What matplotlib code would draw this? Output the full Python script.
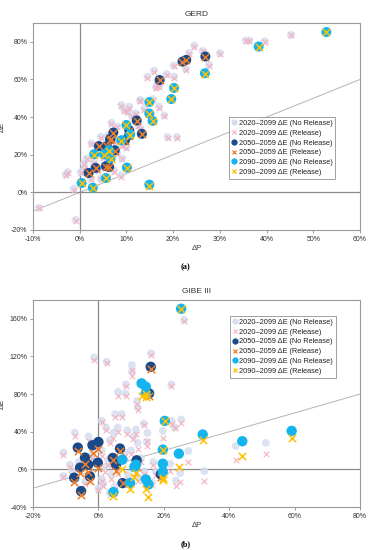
import matplotlib
matplotlib.use("Agg")
import matplotlib.pyplot as plt
from matplotlib.ticker import FuncFormatter, FixedLocator
from matplotlib.lines import Line2D

plt.rcParams['font.family'] = ['Liberation Sans', 'DejaVu Sans']

# ---------------- GERD (panel a) ----------------
gerd_all_dp = [45.2, 36.3, 39.6, 30.0, 24.5, 26.3, 23.4, 27.7, 22.7, 20.1, 20.2, 18.6, 15.9, 14.5,
               16.3, 16.6, 12.9, 15.6, 13.8, 10.6, 8.9, 17.0, 18.1, 11.1, 6.8, 18.8, 20.8, -8.7,
               -0.9, -1.3, -2.6, -3.0, 0.2, 1.5, 9.1, 8.8, 2.5, 4.5, 0.9, 4.5, 7.3, 2.4,
               9.5, 10.2, 12.0, 8.0, 6.0, 7.8, 9.0, 11.0, 12.5, 13.0, 5.0, 3.0, 6.0, 8.0, 10.0,
               4.0, 1.0, 35.5, 17.0, 13.0]
gerd_all_de = [83.7, 80.7, 80.3, 74.0, 78.0, 75.2, 74.0, 67.7, 65.6, 67.4, 61.5, 62.9, 64.7, 61.5,
               55.8, 57.1, 49.0, 49.6, 44.6, 45.5, 46.4, 45.5, 40.9, 40.9, 37.0, 29.5, 29.5, -8.2,
               -14.6, 2.0, 10.8, 9.4, 10.8, 18.0, 18.0, 9.1, 26.0, 29.5, 15.3, 7.3, 11.7, 7.3,
               44.0, 43.0, 42.0, 35.0, 30.0, 27.0, 25.0, 31.0, 36.0, 34.0, 19.0, 16.0, 17.0, 21.0, 24.0,
               12.0, 13.0, 80.7, 56.7, 49.0]
gerd_all_de_rel = [83.5, 80.5, 80.0, 73.5, 77.5, 75.0, 73.5, 67.0, 65.0, 67.0, 61.0, 62.5, 64.0, 61.0,
                   55.5, 56.5, 48.5, 49.0, 44.0, 45.0, 46.0, 45.0, 40.5, 40.5, 36.5, 29.0, 29.0, -8.5,
                   -15.0, 1.5, 10.5, 9.0, 10.5, 17.5, 17.5, 8.2, 25.5, 29.0, 15.0, 7.0, 11.0, 7.0,
                   43.5, 42.5, 41.5, 34.5, 29.5, 26.5, 24.5, 30.5, 35.5, 33.5, 18.5, 15.5, 16.5, 20.5, 23.5,
                   11.5, 12.5, 80.5, 56.0, 48.5]

gerd_50_dp = [17.1, 22.0, 22.8, 26.9, 12.2, 10.6, 7.2, 13.3, 10.6, 6.5, 4.1, 5.8, 7.5, 6.6,
              3.4, 1.9, 5.6, 6.3, 9.7]
gerd_50_de = [59.7, 69.5, 70.4, 72.2, 38.2, 33.0, 31.8, 31.1, 30.4, 28.1, 24.6, 24.6, 22.4, 28.6,
              13.0, 10.3, 13.9, 13.5, 27.7]
gerd_50_de_rel = [59.5, 69.3, 70.2, 72.0, 38.0, 32.8, 31.6, 30.9, 30.2, 27.9, 24.4, 24.4, 22.2, 28.4,
                  12.8, 10.1, 13.7, 13.3, 27.5]

gerd_90_dp = [52.8, 38.3, 26.8, 20.2, 19.6, 14.9, 14.9, 15.6, 10.0, 8.9, 10.8, 3.1, 5.2, 6.6,
              6.3, 0.4, 2.8, 5.6, 10.1, 14.9]
gerd_90_de = [85.2, 77.5, 63.3, 55.5, 49.6, 48.0, 41.9, 38.0, 35.8, 27.7, 30.9, 20.3, 20.3, 18.0,
              22.4, 5.0, 2.5, 7.6, 13.2, 4.1]
gerd_90_de_rel = [85.0, 77.3, 63.1, 55.3, 49.4, 47.8, 41.7, 37.8, 35.6, 27.5, 30.7, 20.1, 20.1, 17.8,
                  22.2, 4.8, 2.3, 7.4, 13.0, 3.5]

# ---------------- GIBE III (panel b) ----------------
gibe_all_dp = [-1.3, 2.5, 10.2, 10.2, 16.1, 26.2, 8.4, 22.3, 6.0, 8.3, 11.8, 12.0,
               5.1, 7.1, 1.0, -7.2, 2.3, 5.9, 8.8, 11.5, 13.9, 15.0, 10.7, 4.6, 3.5, 14.8,
               22.4, 25.3, 23.4, 19.7, 27.5, 16.8, 25.0, 32.4, 42.0, 51.2, -10.7, -10.7, -8.7,
               1.5, 3.5, 17.6, 16.3, -2.0, 1.0, 3.0, 6.0, 9.0, 12.0, -4.0, 0.0, 2.0, 4.0,
               8.0, 13.0, 14.0, -6.0, -8.0, 22.0, 23.7, 1.0, 5.0, 10.0, 12.0, -3.0]
gibe_all_de = [119.0, 114.4, 111.0, 103.8, 123.4, 159.0, 90.3, 90.3, 82.5, 80.7, 72.5, 65.8,
               58.7, 58.7, 51.5, 39.1, 44.5, 44.5, 41.6, 42.3, 48.7, 38.7, 35.2, 39.1, 30.9, 29.1,
               51.5, 53.0, 44.5, 40.9, 19.5, 7.8, -3.9, -1.8, 24.9, 28.1, 17.8, -7.1, 5.0,
               -15.3, -24.2, -2.8, -13.5, 15.0, 20.0, 10.0, 0.0, -5.0, -8.0, -13.0, -20.0, 3.0, -5.0,
               18.0, 12.0, -2.0, 8.0, -2.0, 6.0, -12.0, -10.0, -18.0, 20.0, 28.0, 35.0]
gibe_all_de_rel = [116.0, 113.0, 106.0, 99.0, 122.0, 158.0, 89.0, 89.0, 78.0, 78.0, 70.0, 63.0,
                   56.0, 56.0, 50.0, 35.0, 42.0, 40.0, 38.0, 38.0, 47.0, 30.0, 32.0, 33.0, 28.0, 25.0,
                   48.0, 49.0, 44.0, 33.0, 8.0, 5.0, -13.0, -12.0, 10.0, 16.5, 15.0, -8.0, 2.0,
                   -18.0, -27.0, -6.0, -17.0, 12.0, 14.0, 5.0, -5.0, -10.0, -12.0, -16.0, -22.0, -3.0, -10.0,
                   14.0, 8.0, -5.0, 5.0, -6.0, -2.0, -18.0, -12.0, -22.0, 16.0, 22.0, 30.0]

gibe_50_dp = [-6.3, -4.1, -1.8, 0.0, -0.2, -7.4, -5.6, -3.1, -2.6, -5.3, 6.6, 4.4, 5.4, 11.7,
              7.4, 19.1, 16.0, 15.5]
gibe_50_de = [23.1, 12.5, 25.6, 29.1, 7.1, -8.9, 1.8, 5.0, -7.5, -23.1, 22.1, 12.1, 5.0, 9.6,
              -14.6, -5.3, 109.0, 80.7]
gibe_50_de_rel = [19.0, 6.0, 17.0, 22.0, 1.0, -13.5, -4.0, -3.0, -12.0, -27.0, 20.0, 10.0, -2.0, 2.0,
                  -15.0, -8.0, 107.0, 78.0]

gibe_90_dp = [25.3, 13.2, 14.5, 14.5, 20.3, 31.9, 44.0, 59.1, 19.7, 19.7, 19.7, 24.6, 7.3, 11.0,
              14.5, 15.3, 9.7, 4.6, 11.5]
gibe_90_de = [170.7, 91.4, 87.8, 80.7, 51.5, 37.0, 29.9, 40.9, 21.0, 6.0, -2.8, 16.7, 10.3, 2.5,
              -10.7, -16.0, -14.6, -24.2, 5.0]
gibe_90_de_rel = [170.5, 78.0, 80.0, 77.0, 51.0, 31.7, 14.2, 33.8, 20.5, -9.0, -11.7, 2.5, 0.7, -8.0,
                  -20.6, -29.5, -20.6, -28.8, -4.0]

labels = ["2020\u20132099 \u0394E (No Release)", "2020\u20132099 \u0394E (Release)",
          "2050\u20132059 \u0394E (No Release)", "2050\u20132059 \u0394E (Release)",
          "2090\u20132099 \u0394E (No Release)", "2090\u20132099 \u0394E (Release)"]

C_BG = '#d6ddf0'
C_BGX = '#f4b0c0'
C_50 = '#1a4a8a'
C_50X = '#f07c28'
C_90 = '#14b4ee'
C_90X = '#ffc000'

W, H = 371, 550
fig = plt.figure(figsize=(W / 100, H / 100), dpi=100)


def panel(rect, title, data, xlim, ylim, xticks, yticks, leg_anchor, s_bg, s_main, sub):
    ax = fig.add_axes(rect)
    (adp, ade, aderel, d50, e50, e50r, d90, e90, e90r) = data
    ax.scatter(adp, ade, s=s_bg, color=C_BG, edgecolors='none', alpha=0.85, zorder=2)
    ax.scatter(adp, aderel, s=s_bg * 0.5, marker='x', color=C_BGX, linewidths=0.8, zorder=3)
    ax.scatter(d50, e50, s=s_main, color=C_50, edgecolors='none', zorder=4)
    ax.scatter(d50, e50r, s=s_main * 0.5, marker='x', color=C_50X, linewidths=1.1, zorder=5)
    ax.scatter(d90, e90, s=s_main, color=C_90, edgecolors='none', zorder=6)
    ax.scatter(d90, e90r, s=s_main * 0.5, marker='x', color=C_90X, linewidths=1.1, zorder=7)
    lo, hi = xlim
    ax.plot([lo, hi], [lo, hi], color='#b4b4b4', lw=0.7, zorder=1)
    ax.axhline(0, color='#8a8a8a', lw=0.9, zorder=1)
    ax.axvline(0, color='#8a8a8a', lw=0.9, zorder=1)
    ax.set_xlim(xlim)
    ax.set_ylim(ylim)
    ax.xaxis.set_major_locator(FixedLocator(xticks))
    ax.yaxis.set_major_locator(FixedLocator(yticks))
    fmt = FuncFormatter(lambda v, p: f"{v:.0f}%")
    ax.xaxis.set_major_formatter(fmt)
    ax.yaxis.set_major_formatter(fmt)
    ax.tick_params(labelsize=5, length=2, width=0.6, color='#888888', pad=2, labelcolor='#333333')
    for sp in ax.spines.values():
        sp.set_color('#9a9a9a')
        sp.set_linewidth(0.8)
    ax.set_title(title, fontsize=6, pad=5, color='#333333')
    ax.set_xlabel("\u0394P", fontsize=5.5, labelpad=2, color='#333333')
    ax.set_ylabel("\u0394E", fontsize=5.5, color='#333333')
    ax.yaxis.set_label_coords(-27 / 327, 0.5)
    handles = [
        Line2D([], [], ls='none', marker='o', color=C_BG, markersize=3.5),
        Line2D([], [], ls='none', marker='x', color=C_BGX, markersize=3, mew=0.8),
        Line2D([], [], ls='none', marker='o', color=C_50, markersize=3.5),
        Line2D([], [], ls='none', marker='x', color=C_50X, markersize=3, mew=0.9),
        Line2D([], [], ls='none', marker='o', color=C_90, markersize=3.5),
        Line2D([], [], ls='none', marker='x', color=C_90X, markersize=3, mew=0.9),
    ]
    leg = ax.legend(handles, labels, loc='upper left', bbox_to_anchor=leg_anchor,
                    fontsize=5.3, frameon=True, fancybox=False, handlelength=0.6,
                    handletextpad=0.3, borderpad=0.4, labelspacing=0.35, borderaxespad=0)
    leg.get_frame().set_edgecolor('#888888')
    leg.get_frame().set_linewidth(0.7)
    for t in leg.get_texts():
        t.set_color('#222222')
    leg.set_zorder(10)
    fig.text(0.5, sub[1], sub[0], ha='center', va='center', fontsize=6, fontweight='bold',
             family=['Liberation Serif', 'DejaVu Serif'])
    return ax


ax_l, ax_w = 33 / W, 327 / W
panel([ax_l, 1 - 230 / H, ax_w, 207 / H], "GERD",
      (gerd_all_dp, gerd_all_de, gerd_all_de_rel, gerd_50_dp, gerd_50_de, gerd_50_de_rel,
       gerd_90_dp, gerd_90_de, gerd_90_de_rel),
      (-10, 60), (-20, 90), list(range(-10, 61, 10)), list(range(-20, 81, 20)),
      (0.60, 0.546), 32, 52, ("(a)", 1 - 267 / H))
panel([ax_l, 1 - 507 / H, ax_w, 207 / H], "GIBE III",
      (gibe_all_dp, gibe_all_de, gibe_all_de_rel, gibe_50_dp, gibe_50_de, gibe_50_de_rel,
       gibe_90_dp, gibe_90_de, gibe_90_de_rel),
      (-20, 80), (-40, 180), list(range(-20, 81, 20)), list(range(-40, 161, 40)),
      (0.602, 0.923), 32, 56, ("(b)", 1 - 544 / H))

fig.savefig("out.png", dpi=100)
